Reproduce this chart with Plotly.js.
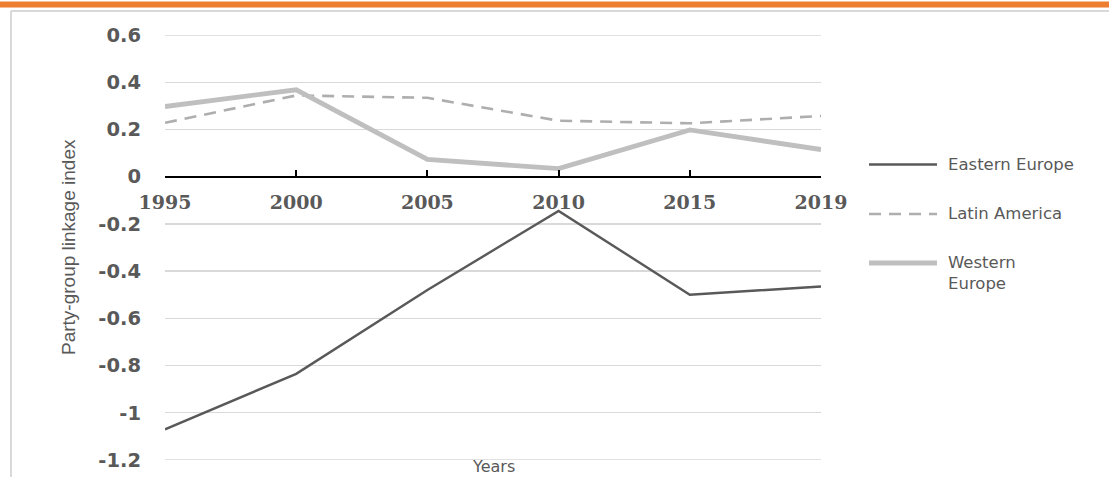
<!DOCTYPE html>
<html>
<head>
<meta charset="utf-8">
<script src="https://cdn.plot.ly/plotly-3.0.1.min.js"></script>
<style>
  html, body { margin: 0; padding: 0; background: #ffffff; }
  #chart { width: 1109px; height: 477px; }
</style>
</head>
<body>
<div id="chart"></div>
<script>
// Party-group linkage index by region, 1995–2019
const years = ['1995', '2000', '2005', '2010', '2015', '2019'];
const easternEurope = [-1.07, -0.835, -0.48, -0.145, -0.50, -0.465];
const latinAmerica  = [0.228, 0.344, 0.334, 0.237, 0.226, 0.257];
const westernEurope = [0.297, 0.368, 0.073, 0.034, 0.198, 0.115];
const seriesNames = ['Eastern Europe', 'Latin America', 'Western<br>Europe'];
const yTickValues = [0.6, 0.4, 0.2, 0, -0.2, -0.4, -0.6, -0.8, -1, -1.2];
const yTickLabels = ['0.6', '0.4', '0.2', '0', '-0.2', '-0.4', '-0.6', '-0.8', '-1', '-1.2'];
const yTitle = 'Party-group linkage index';
const xTitle = 'Years';

// figure geometry (pixels)
const W = 1109, H = 477;
const M = { l: 165, r: 288, t: 35, b: 17 };
const plotW = W - M.l - M.r, plotH = H - M.t - M.b;
const px2x = px => (px - M.l) / plotW;
const px2y = py => (H - M.b - py) / plotH;

const styles = [
  { color: '#595959', width: 2.4, dash: 'solid' },
  { color: '#aeaeae', width: 2.6, dash: '12px,8px' },
  { color: '#bfbfbf', width: 4.8, dash: 'solid' }
];
const seriesValues = [easternEurope, latinAmerica, westernEurope];

const traces = seriesValues.map((vals, i) => ({
  type: 'scatter',
  mode: 'lines',
  x: years,
  y: vals,
  name: seriesNames[i],
  line: { color: styles[i].color, width: styles[i].width, dash: styles[i].dash },
  hoverinfo: 'x+y+name',
  showlegend: false
}));

const yMax = Math.max(...yTickValues), yMin = Math.min(...yTickValues);

// hand-drawn legend on the right
const legendRows = [164.5, 214, 263];
const shapes = [
  // gridlines on the top and bottom edges of the value range
  { type: 'line', xref: 'paper', yref: 'y', x0: 0, x1: 1, y0: yMax, y1: yMax, layer: 'below',
    line: { color: '#d9d9d9', width: 1.3 } },
  { type: 'line', xref: 'paper', yref: 'y', x0: 0, x1: 1, y0: yMin, y1: yMin, layer: 'below',
    line: { color: '#d9d9d9', width: 1.3 } },
  // frame around the chart
  { type: 'line', xref: 'paper', yref: 'paper', x0: px2x(11), x1: px2x(W + 5), y0: px2y(11), y1: px2y(11),
    line: { color: '#d9d9d9', width: 2 } },
  { type: 'line', xref: 'paper', yref: 'paper', x0: px2x(11), x1: px2x(11), y0: px2y(11), y1: px2y(H + 5),
    line: { color: '#d9d9d9', width: 2 } },
  // orange rule along the top
  { type: 'rect', xref: 'paper', yref: 'paper', x0: px2x(-5), x1: px2x(W + 5), y0: px2y(1.5), y1: px2y(7.5),
    fillcolor: '#ed7d31', line: { width: 0 } }
];
legendRows.forEach((py, i) => {
  shapes.push({
    type: 'line', xref: 'paper', yref: 'paper',
    x0: px2x(869), x1: px2x(937), y0: px2y(py), y1: px2y(py),
    line: { color: styles[i].color, width: styles[i].width, dash: styles[i].dash }
  });
});

const annotations = [
  { text: xTitle, xref: 'paper', yref: 'paper', x: px2x(494), y: px2y(467), xanchor: 'center', yanchor: 'middle',
    showarrow: false, font: { family: 'DejaVu Sans', size: 16, color: '#595959' } },
  { text: yTitle, xref: 'paper', yref: 'paper', x: px2x(69), y: px2y(247), xanchor: 'center', yanchor: 'middle',
    textangle: -90, showarrow: false,
    font: { family: 'Liberation Sans Narrow, Liberation Sans, sans-serif', size: 19, color: '#595959' } }
];
legendRows.forEach((py, i) => {
  annotations.push({
    text: seriesNames[i], xref: 'paper', yref: 'paper', x: px2x(946), y: px2y(py - 12),
    xanchor: 'left', yanchor: 'top', align: 'left', showarrow: false,
    font: { family: 'DejaVu Sans', size: 16.5, color: '#595959' }
  });
});

const layout = {
  width: W,
  height: H,
  margin: M,
  paper_bgcolor: '#ffffff',
  plot_bgcolor: '#ffffff',
  showlegend: false,
  xaxis: {
    type: 'category',
    range: [0, years.length - 1],
    anchor: 'free',
    position: 1.2 / 1.8,
    showline: true,
    linecolor: '#000000',
    linewidth: 2.6,
    ticks: 'inside',
    ticklen: 6,
    tickwidth: 2,
    tickcolor: '#000000',
    showgrid: false,
    zeroline: false,
    ticklabelstandoff: 8,
    tickfont: { family: 'DejaVu Serif', size: 19, weight: 'bold', color: '#595959' },
    fixedrange: true
  },
  yaxis: {
    range: [yMin, yMax],
    tickmode: 'array',
    tickvals: yTickValues,
    ticktext: yTickLabels,
    showgrid: true,
    gridcolor: '#d9d9d9',
    gridwidth: 1.3,
    zeroline: false,
    showline: false,
    ticks: '',
    ticklabelstandoff: 23,
    tickfont: { family: 'DejaVu Sans', size: 19.5, weight: 'bold', color: '#595959' },
    fixedrange: true
  },
  shapes: shapes,
  annotations: annotations
};

Plotly.newPlot('chart', traces, layout, { displayModeBar: false, staticPlot: true });
</script>
</body>
</html>
